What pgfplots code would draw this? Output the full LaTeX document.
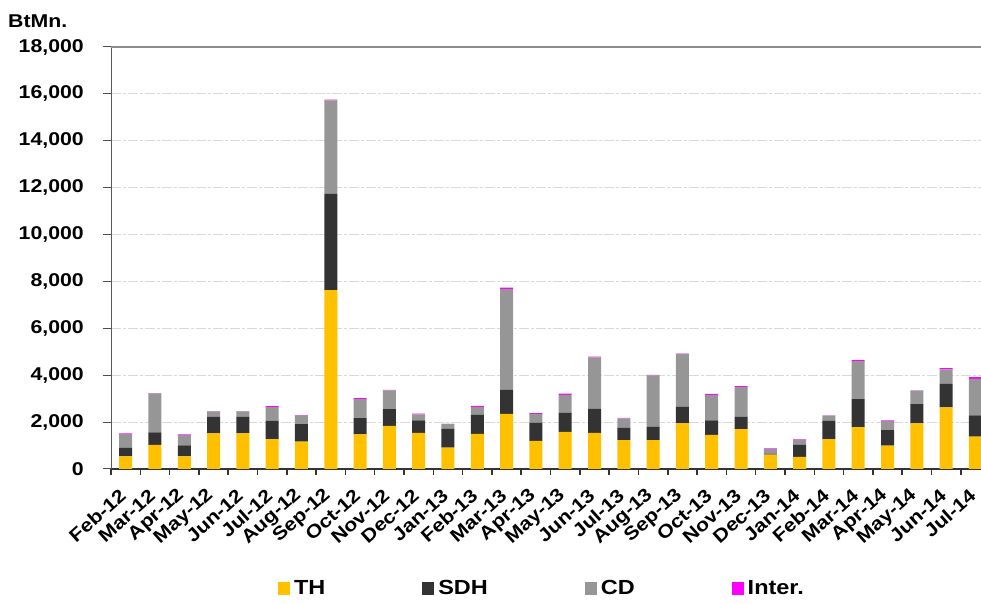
\documentclass[border=0pt]{standalone}
\usepackage{fontspec}
\setmainfont{Liberation Sans}
\newfontfamily\wide{Liberation Sans}[FakeStretch=1.15]
\usepackage{pgfplots}
\pgfplotsset{compat=1.18}
\usepackage{pgfplotstable}

\definecolor{cTH}{HTML}{FFC000}
\definecolor{cSDH}{HTML}{333333}
\definecolor{cCD}{HTML}{969696}
\definecolor{cInt}{HTML}{FF00FF}

\pgfplotstableread{
x TH SDH CD Inter
0 540 360 590 30
1 1030 530 1670 10
2 535 470 440 35
3 1520 710 230 5
4 1520 710 230 5
5 1275 785 580 45
6 1165 750 360 25
7 7630 4100 3990 40
8 1475 690 820 40
9 1840 715 800 15
10 1540 530 255 40
11 915 800 210 5
12 1500 810 340 45
13 2355 1025 4295 60
14 1200 780 375 30
15 1585 810 770 45
16 1540 1030 2195 30
17 1230 540 385 30
18 1230 570 2195 15
19 1950 700 2260 10
20 1460 615 1085 40
21 1700 530 1270 30
22 615 45 185 30
23 515 515 215 15
24 1270 790 215 15
25 1785 1200 1620 45
26 1000 655 385 30
27 1945 825 575 5
28 2630 1000 620 55
29 1385 900 1560 70
}\data

\begin{document}
\begin{tikzpicture}[x=1pt,y=1pt]
\useasboundingbox (0,0) rectangle (981,604);
\begin{axis}[
  at={(111pt,135pt)}, anchor=south west,
  scale only axis, width=870pt, height=422pt,
  ybar stacked, bar width=13pt,
  xmin=-0.5, xmax=29.19, ymin=0, ymax=18000,
  axis x line*=bottom, axis y line*=left,
  axis line style={-},
  x axis line style={line width=2pt, color=black!80},
  y axis line style={line width=1pt, color=black!65},
  xtick={0,...,29},
  xticklabels={Feb-12,Mar-12,Apr-12,May-12,Jun-12,Jul-12,Aug-12,Sep-12,Oct-12,Nov-12,Dec-12,Jan-13,Feb-13,Mar-13,Apr-13,May-13,Jun-13,Jul-13,Aug-13,Sep-13,Oct-13,Nov-13,Dec-13,Jan-14,Feb-14,Mar-14,Apr-14,May-14,Jun-14,Jul-14},
  major x tick style={draw=none},
  minor xtick={-0.5,0.5,...,28.5},
  minor tick length=6pt,
  minor x tick style={line width=1.5pt, color=black!80},
  ytick={0,2000,...,18000},
  major tick length=8pt,
  major y tick style={line width=1pt, color=black!70},
  tick align=outside,
  scaled y ticks=false,
  yticklabel style={/pgf/number format/.cd, 1000 sep={,}, assume math mode=true, /tikz/.cd,
     font=\wide\fontsize{18.5}{21}\selectfont\bfseries, inner sep=0pt, xshift=-19pt},
  xticklabel style={font=\wide\fontsize{18.5}{21}\selectfont\bfseries, rotate=42, anchor=east, inner sep=1pt, xshift=-11.5pt, yshift=-9.8pt},
  ymajorgrids,
  major grid style={dash pattern=on 10pt off 2pt on 3pt off 2pt, color=black!15, line width=1.2pt},
  extra y ticks={18000},
  extra y tick labels={},
  extra y tick style={major grid style={solid, color=black!45, line width=1.5pt}, major tick length=0pt},
  legend style={at={(0.1920,-0.282)}, anchor=west, draw=none, inner sep=0pt, outer sep=0pt,
     legend columns=4,
     font=\wide\fontsize{20.4}{23}\selectfont\bfseries,
     nodes={inner sep=4pt},
     /tikz/every even column/.append style={column sep=93pt}},
  legend image code/.code={\fill[#1] (0pt,-6.5pt) rectangle (12pt,6.5pt);},
]
\addplot[fill=cTH, draw=none] table[x=x,y=TH]{\data};
\addplot[fill=cSDH, draw=none] table[x=x,y=SDH]{\data};
\addplot[fill=cCD, draw=none] table[x=x,y=CD]{\data};
\addplot[fill=cInt, draw=none] table[x=x,y=Inter]{\data};
\legend{TH,SDH,CD,Inter.}
\end{axis}
\node[anchor=west, inner sep=0pt, font=\wide\fontsize{18.5}{21}\selectfont\bfseries] at (8,583) {BtMn.};
\end{tikzpicture}
\end{document}
